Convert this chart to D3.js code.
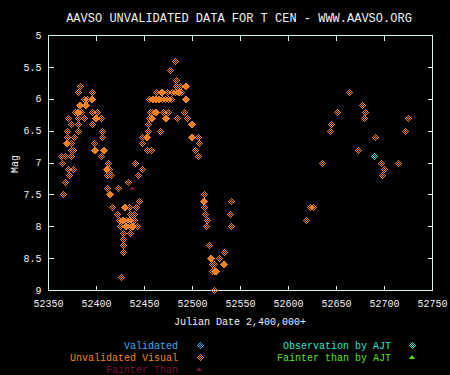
<!DOCTYPE html>
<html>
<head>
<meta charset="utf-8">
<script src="https://cdn.jsdelivr.net/npm/d3@7"></script>
<style>
  body { margin: 0; background: #000; }
  svg { display: block; background: #000; }
  text { font-family: "Liberation Mono", "DejaVu Sans Mono", monospace; }
</style>
</head>
<body>
<div id="chart"></div>
<script>
// AAVSO light curve for T Cen

var xTicks = [52350, 52400, 52450, 52500, 52550, 52600, 52650, 52700, 52750];
var yTicks = [5, 5.5, 6, 6.5, 7, 7.5, 8, 8.5, 9];

// [julian date, magnitude]
var unvalidated = [
  [52482, 5.4], [52477, 5.55], [52483, 5.7],
  [52383, 5.8], [52483, 5.8], [52487, 5.8], [52488, 5.8], [52493, 5.8], [52494, 5.8],
  [52381, 5.9], [52396, 5.9], [52462, 5.9], [52463, 5.9], [52468, 5.9], [52469, 5.9], [52474, 5.9],
  [52479, 5.9], [52482, 5.9], [52485, 5.9], [52486, 5.9], [52489, 5.9], [52664, 5.9],
  [52387, 6.0], [52391, 6.0], [52395, 6.0], [52396, 6.0], [52455, 6.0], [52458, 6.0], [52459, 6.0],
  [52461, 6.0], [52462, 6.0], [52465, 6.0], [52466, 6.0], [52469, 6.0], [52472, 6.0], [52475, 6.0],
  [52478, 6.0], [52493, 6.0], [52494, 6.0],
  [52382, 6.1], [52383, 6.1], [52389, 6.1], [52390, 6.1], [52677, 6.1],
  [52378, 6.2], [52380, 6.2], [52381, 6.2], [52384, 6.2], [52396, 6.2], [52401, 6.2], [52456, 6.2],
  [52458, 6.2], [52461, 6.2], [52462, 6.2], [52470, 6.2], [52475, 6.2], [52492, 6.2], [52651, 6.2], [52680, 6.2],
  [52371, 6.3], [52381, 6.3], [52388, 6.3], [52399, 6.3], [52400, 6.3], [52405, 6.3], [52455, 6.3],
  [52457, 6.3], [52458, 6.3], [52472, 6.3], [52473, 6.3], [52484, 6.3], [52495, 6.3], [52679, 6.3], [52725, 6.3],
  [52374, 6.4], [52381, 6.4], [52396, 6.4], [52454, 6.4], [52499, 6.4], [52500, 6.4], [52645, 6.4],
  [52370, 6.5], [52381, 6.5], [52406, 6.5], [52454, 6.5], [52467, 6.5], [52644, 6.5], [52722, 6.5],
  [52370, 6.6], [52377, 6.6], [52406, 6.6], [52448, 6.6], [52452, 6.6], [52453, 6.6], [52499, 6.6],
  [52500, 6.6], [52506, 6.6], [52691, 6.6],
  [52369, 6.7], [52370, 6.7], [52374, 6.7], [52398, 6.7], [52448, 6.7], [52507, 6.7],
  [52374, 6.8], [52376, 6.8], [52398, 6.8], [52399, 6.8], [52407, 6.8], [52408, 6.8], [52453, 6.8],
  [52457, 6.8], [52503, 6.8], [52673, 6.8],
  [52364, 6.9], [52368, 6.9], [52374, 6.9], [52405, 6.9], [52506, 6.9],
  [52365, 7.0], [52412, 7.0], [52441, 7.0], [52635, 7.0], [52697, 7.0], [52715, 7.0],
  [52371, 7.1], [52376, 7.1], [52410, 7.1], [52411, 7.1], [52414, 7.1], [52448, 7.1], [52700, 7.1],
  [52372, 7.2], [52411, 7.2], [52416, 7.2], [52444, 7.2], [52698, 7.2],
  [52368, 7.3], [52433, 7.3],
  [52411, 7.4], [52423, 7.4],
  [52366, 7.5], [52414, 7.5], [52415, 7.5], [52512, 7.5],
  [52445, 7.6], [52511, 7.6], [52513, 7.6], [52541, 7.6],
  [52417, 7.7], [52429, 7.7], [52430, 7.7], [52434, 7.7], [52442, 7.7], [52513, 7.7], [52623, 7.7], [52626, 7.7],
  [52422, 7.8], [52435, 7.8], [52440, 7.8], [52514, 7.8], [52540, 7.8],
  [52424, 7.9], [52427, 7.9], [52428, 7.9], [52431, 7.9], [52434, 7.9], [52437, 7.9], [52438, 7.9],
  [52440, 7.9], [52516, 7.9], [52619, 7.9],
  [52425, 8.0], [52430, 8.0], [52431, 8.0], [52434, 8.0], [52436, 8.0], [52437, 8.0], [52439, 8.0],
  [52443, 8.0], [52515, 8.0], [52541, 8.0],
  [52428, 8.1], [52435, 8.1], [52428, 8.2], [52428, 8.3], [52518, 8.3], [52428, 8.4], [52533, 8.4],
  [52519, 8.5], [52520, 8.5], [52528, 8.5],
  [52521, 8.6], [52523, 8.6], [52532, 8.6], [52533, 8.6],
  [52521, 8.7], [52523, 8.7], [52524, 8.7], [52525, 8.7],
  [52426, 8.8], [52523, 9.0]
];
var fainterThan = [[52437.5, 7.4]];
var ajtObs = [[52690, 6.9]];

var width = 450;
var height = 375;
var margin = { top: 35, right: 18, bottom: 85, left: 48 };
var innerWidth = width - margin.left - margin.right;
var innerHeight = height - margin.top - margin.bottom;

var axisColor = "#d8f4f4";
var orange = "#f08020";

var svg = d3.select("#chart")
  .append("svg")
  .attr("width", width)
  .attr("height", height);

var g = svg.append("g")
  .attr("transform", "translate(" + margin.left + "," + margin.top + ")");

var x = d3.scaleLinear().domain([52350, 52750]).range([0, innerWidth]);
var y = d3.scaleLinear().domain([5, 9]).range([0, innerHeight]);

// frame
g.append("rect")
  .attr("x", 0.5).attr("y", 0.5)
  .attr("width", innerWidth).attr("height", innerHeight)
  .attr("fill", "none")
  .attr("stroke", axisColor);

function styleAxis(sel) {
  sel.select(".domain").remove();
  sel.selectAll("line").attr("stroke", axisColor).attr("shape-rendering", "crispEdges");
  sel.selectAll("text")
    .attr("fill", "#f0f0f0")
    .style("font-size", "10px")
    .style("font-family", "'Liberation Mono', monospace");
}

// mirrored axes carry ticks only
function ticksOnly(sel) {
  sel.selectAll("text").remove();
}

g.append("g")
  .attr("transform", "translate(0," + (innerHeight + 0.5) + ")")
  .call(d3.axisBottom(x).tickValues(xTicks).tickSizeInner(-5).tickSizeOuter(0).tickPadding(9).tickFormat(d3.format("d")))
  .call(styleAxis);

g.append("g")
  .attr("transform", "translate(0,0.5)")
  .call(d3.axisTop(x).tickValues(xTicks).tickSizeInner(-5).tickSizeOuter(0))
  .call(styleAxis)
  .call(ticksOnly);

g.append("g")
  .attr("transform", "translate(0.5,0)")
  .call(d3.axisLeft(y).tickValues(yTicks).tickSizeInner(-5).tickSizeOuter(0).tickPadding(7).tickFormat(d3.format("~g")))
  .call(styleAxis);

g.append("g")
  .attr("transform", "translate(" + (innerWidth + 0.5) + ",0)")
  .call(d3.axisRight(y).tickValues(yTicks).tickSizeInner(-5).tickSizeOuter(0))
  .call(styleAxis)
  .call(ticksOnly);

// checkered pixel diamond
var diamondPixels = [];
for (var dx = -3; dx <= 3; dx++) {
  for (var dy = -3; dy <= 3; dy++) {
    var d = Math.abs(dx) + Math.abs(dy);
    if (d === 1 || d === 3) diamondPixels.push([dx, dy]);
  }
}

function drawDiamond(parent, cx, cy, color) {
  var px = Math.round(cx), py = Math.round(cy);
  parent.append("g")
    .selectAll("rect")
    .data(diamondPixels)
    .enter()
    .append("rect")
    .attr("x", function(p) { return px + p[0]; })
    .attr("y", function(p) { return py + p[1]; })
    .attr("width", 1)
    .attr("height", 1)
    .attr("fill", color)
    .attr("shape-rendering", "crispEdges");
}

function drawTriangle(parent, cx, cy, color) {
  var px = Math.round(cx), py = Math.round(cy);
  parent.append("path")
    .attr("d", "M" + (px - 3) + "," + (py + 2) + "L" + px + "," + (py - 2) + "L" + (px + 3) + "," + (py + 2) + "Z")
    .attr("fill", color);
}

var points = g.append("g");
unvalidated.forEach(function(d) {
  drawDiamond(points, x(d[0]), y(d[1]), orange);
});
fainterThan.forEach(function(d) {
  drawTriangle(points, x(d[0]), y(d[1]), "#78103c");
});
ajtObs.forEach(function(d) {
  drawDiamond(points, x(d[0]), y(d[1]), "#30e0c8");
});

// titles
svg.append("text")
  .attr("x", 239).attr("y", 18)
  .attr("dy", "0.35em")
  .attr("text-anchor", "middle")
  .attr("fill", "#f0f0f0")
  .style("font-size", "12px")
  .text("AAVSO UNVALIDATED DATA FOR T CEN - WWW.AAVSO.ORG");

svg.append("text")
  .attr("x", 240).attr("y", 321)
  .attr("dy", "0.35em")
  .attr("text-anchor", "middle")
  .attr("fill", "#f0f0f0")
  .style("font-size", "10px")
  .text("Julian Date 2,400,000+");

svg.append("text")
  .attr("transform", "translate(14,164) rotate(-90)")
  .attr("dy", "0.35em")
  .attr("text-anchor", "middle")
  .attr("fill", "#f0f0f0")
  .style("font-size", "10px")
  .text("Mag");

// legend
var legendItems = [
  { label: "Validated", color: "#40a8f0", tx: 178, mx: 200, y: 345, mark: "diamond" },
  { label: "Unvalidated Visual", color: orange, tx: 178, mx: 200, y: 357, mark: "diamond" },
  { label: "Fainter Than", color: "#78103c", tx: 178, mx: 199, y: 369, mark: "triangle" },
  { label: "Observation by AJT", color: "#30e0c8", tx: 391, mx: 412, y: 345, mark: "diamond" },
  { label: "Fainter than by AJT", color: "#58e020", tx: 391, mx: 412, y: 357, mark: "triangle" }
];

var legend = svg.append("g");
legendItems.forEach(function(d) {
  legend.append("text")
    .attr("x", d.tx).attr("y", d.y)
    .attr("dy", "0.35em")
    .attr("text-anchor", "end")
    .attr("fill", d.color)
    .style("font-size", "10px")
    .text(d.label);
  if (d.mark === "diamond") {
    drawDiamond(legend, d.mx, d.y, d.color);
  } else {
    drawTriangle(legend, d.mx, d.y, d.color);
  }
});
</script>
</body>
</html>
